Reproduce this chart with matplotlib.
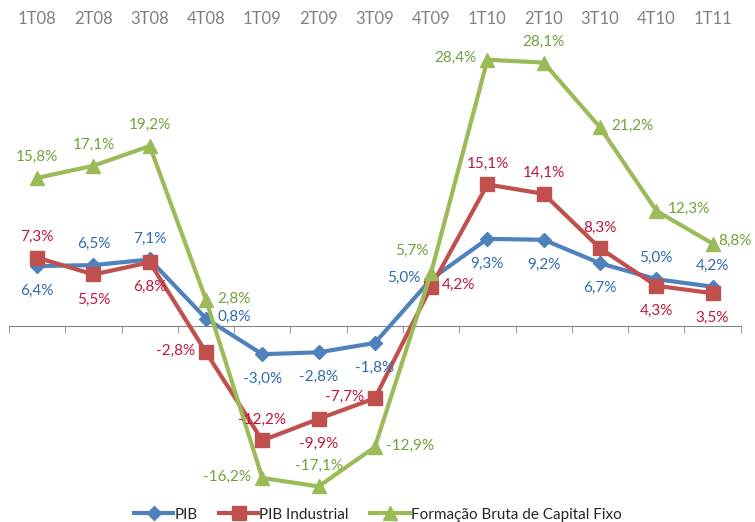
import numpy as np
import matplotlib
matplotlib.use("Agg")
from matplotlib import pyplot as plt

# quarters and growth rates (%)
quarters = ["1T08", "2T08", "3T08", "4T08", "1T09", "2T09", "3T09",
            "4T09", "1T10", "2T10", "3T10", "4T10", "1T11"]
pib = [6.4, 6.5, 7.1, 0.8, -3.0, -2.8, -1.8, 5.0, 9.3, 9.2, 6.7, 5.0, 4.2]
pib_ind = [7.3, 5.5, 6.8, -2.8, -12.2, -9.9, -7.7, 4.2, 15.1, 14.1, 8.3, 4.3, 3.5]
fbcf = [15.8, 17.1, 19.2, 2.8, -16.2, -17.1, -12.9, 5.7, 28.4, 28.1, 21.2, 12.3, 8.8]

# label placement: a=above b=below l=left r=right
pib_pos = ["b", "a", "a", "r", "b", "b", "b", "l", "b", "b", "b", "a", "a"]
ind_pos = ["a", "b", "b", "l", "a", "b", "l", "r", "a", "a", "a", "b", "b"]
fbcf_pos = ["a", "a", "a", "r", "l", "a", "r", "al", "l", "a", "r", "r", "rn"]

plt.rcParams["font.family"] = ["Lato", "DejaVu Sans"]

fig = plt.figure(figsize=(7.55, 5.22), dpi=100)
ax = fig.add_axes([0.012, 0.052, 0.969, 0.891])

x = np.arange(len(quarters))
series = [
    ("PIB", pib, pib_pos, "#4F81BD", "#2F6AAE", "D", 7),
    ("PIB Industrial", pib_ind, ind_pos, "#C0504D", "#C0163C", "s", 9.5),
    ("Formação Bruta de Capital Fixo", fbcf, fbcf_pos, "#9BBB59", "#72A03A", "^", 9.5),
]

# (dx, dy, ha) in points
offsets = {"a": (0, 15, "center"), "b": (0, -18, "center"),
           "l": (-8, 1, "right"), "r": (8, 1, "left"), "rn": (4, 2, "left"),
           "al": (-14, 16, "center")}

for name, vals, pos, col, tcol, mk, ms in series:
    ax.plot(x, vals, color=col, lw=3, marker=mk, markersize=ms, label=name,
            solid_joinstyle="round", clip_on=False)
    for xi, v, p in zip(x, vals, pos):
        dx, dy, ha = offsets[p]
        ax.annotate(f"{v:.1f}%".replace(".", ","), (xi, v), xytext=(dx, dy),
                    textcoords="offset points", ha=ha, va="center",
                    fontsize=11, color=tcol)

ax.set_xlim(-0.5, len(quarters) - 0.5)
ax.set_ylim(-18.0, 31.6)
ax.set_yticks([])
for s in ["left", "right", "top"]:
    ax.spines[s].set_visible(False)
ax.spines["bottom"].set_position(("data", 0))
ax.spines["bottom"].set_color("#868686")
ax.spines["bottom"].set_zorder(0.5)

ax.set_xticks(x)
ax.set_xticklabels(quarters)
ax.set_xticks(np.arange(-0.5, len(quarters)), minor=True)
ax.tick_params(axis="x", which="major", length=0, labelbottom=False,
               labeltop=True, labelsize=12, labelcolor="#808080", pad=2)
ax.tick_params(axis="x", which="minor", length=5, color="#868686", direction="out")

fig.legend(loc="center", bbox_to_anchor=(0.5, 0.014), ncol=3, frameon=False,
           fontsize=11, handlelength=2.6, columnspacing=1.4, handletextpad=0.05,
           labelcolor="#262626")

fig.savefig("out.png", dpi=100)
